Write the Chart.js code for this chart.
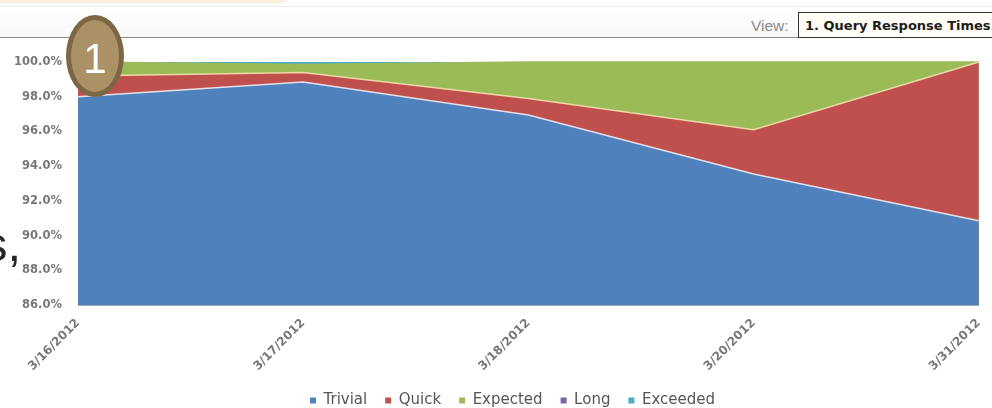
<!DOCTYPE html>
<html>
<head>
<meta charset="utf-8">
<script src="https://cdn.jsdelivr.net/npm/chart.js@4"></script>
<style>
  html, body { margin: 0; padding: 0; background: #fff; }
  #page { position: relative; width: 992px; height: 408px; overflow: hidden; font-family: "Liberation Sans", sans-serif; }
  #topStrip { position: absolute; left: 0; top: 0; width: 285px; height: 3px; background: #fdeedd; }
  #toolbar { position: absolute; left: 0; top: 6px; width: 992px; height: 30px; border-top: 1px solid #eee; border-bottom: 1px solid #8a8a8a; background: linear-gradient(#fff, #f8f8f8); }
  #viewLabel { position: absolute; left: 751px; top: 17px; font-size: 15.5px; color: #8a8a8a; }
  #viewBox { position: absolute; left: 798px; top: 12px; width: 200px; height: 24px; border: 1px solid #333; background: #fffdf6; font: bold 13px "DejaVu Sans", sans-serif; line-height: 26px; padding-left: 6px; white-space: nowrap; color: #1c1c1c; }
  #sideText { position: absolute; left: -17px; top: 216px; font-size: 49px; color: #26262b; }
  #chartWrap { position: absolute; left: 0; top: 0; width: 992px; height: 408px; }
  #badge { position: absolute; left: 66px; top: 15px; width: 48px; height: 72px; border: 5px solid #7d6644; border-radius: 50%; background: #ab9166; color: #fff; font-size: 42px; line-height: 78px; text-align: center; }
</style>
</head>
<body>
<div id="page">
  <div id="topStrip"></div>
  <div id="toolbar"></div>
  <div id="viewLabel">View:</div>
  <div id="viewBox">1. Query Response Times</div>
  <div id="sideText">s,</div>
  <div id="chartWrap"><canvas id="myChart" width="992" height="408"></canvas></div>
  <div id="badge">1</div>
</div>
<script>
const dates = ['3/16/2012', '3/17/2012', '3/18/2012', '3/20/2012', '3/31/2012'];
const trivial = [98.0, 98.85, 96.95, 93.55, 90.85];
const quick = [1.2, 0.55, 0.95, 2.55, 9.15];
const expected = [0.8, 0.45, 2.1, 3.9, 0];
const long = [0, 0, 0, 0, 0];
const exceeded = [0, 0.25, 0, 0, 0];

const ctx = document.getElementById('myChart');

function area(label, values, color, edge) {
  return {
    label: label,
    data: values,
    backgroundColor: color,
    borderColor: edge,
    borderWidth: 1.5,
    fill: true,
    pointRadius: 0,
    tension: 0,
    clip: 3, // the exceeded sliver sits just over the 100% line
  };
}

// the legend is centred on the span right of the y labels, not on the canvas
const legendShift = {
  id: 'legendShift',
  beforeDraw: (chart) => { chart.legend.left = 44; },
};

new Chart(ctx, {
  type: 'line',
  data: {
    labels: dates,
    datasets: [
      area('Trivial', trivial, '#4f81bd', '#e6dfe8'),
      area('Quick', quick, '#c0504d', '#ecd9a6'),
      area('Expected', expected, '#9bbb59', '#9bbb59'),
      area('Long', long, '#8064a2', 'transparent'),
      area('Exceeded', exceeded, '#4bacc6', 'transparent'),
    ],
  },
  plugins: [legendShift],
  options: {
    responsive: false,
    animation: false,
    layout: { padding: { left: 0, right: 11, top: 62, bottom: -10 } },
    scales: {
      x: {
        offset: false,
        grid: { display: false },
        border: { color: '#9aa8b8' },
        ticks: {
          maxRotation: 45,
          minRotation: 45,
          autoSkip: false,
          color: '#777',
          font: { family: 'DejaVu Sans', size: 12, weight: 'bold' },
        },
        afterFit: (scale) => { scale.height = 70; },
      },
      y: {
        stacked: true,
        min: 86,
        max: 100,
        grid: { display: false },
        border: { display: false },
        ticks: {
          stepSize: 2,
          padding: 8,
          color: '#777',
          font: { family: 'DejaVu Sans', size: 11.5, weight: 'bold' },
          callback: (v) => v.toFixed(1) + '%',
        },
        afterFit: (scale) => { scale.width = 78; },
      },
    },
    plugins: {
      tooltip: { enabled: false },
      legend: {
        position: 'bottom',
        labels: {
          usePointStyle: true,
          pointStyle: 'rect',
          boxWidth: 6,
          boxHeight: 6,
          padding: 18,
          color: '#555',
          font: { family: 'DejaVu Sans', size: 15 },
          generateLabels: (chart) => Chart.defaults.plugins.legend.labels.generateLabels(chart)
            .map((item) => ({ ...item, strokeStyle: item.fillStyle, lineWidth: 0 })),
        },
      },
    },
  },
});
</script>
</body>
</html>
